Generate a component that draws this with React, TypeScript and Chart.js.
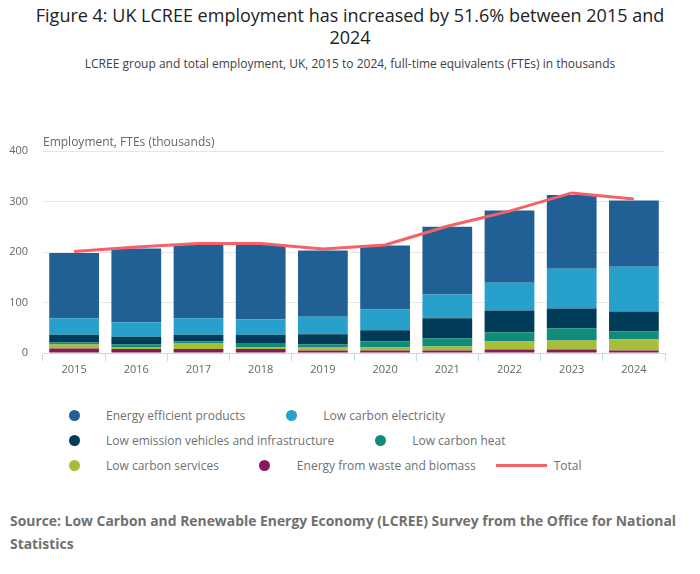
import { useEffect, useRef } from 'react';
import { Chart, registerables } from 'chart.js';

Chart.register(...registerables);

const years = ['2015', '2016', '2017', '2018', '2019', '2020', '2021', '2022', '2023', '2024'];
const wasteBiomass = [9, 8, 8, 8, 5, 5, 5, 7, 7, 5];
const lowCarbonServices = [8, 4, 12, 4, 7, 6, 8, 16, 18, 22];
const lowCarbonHeat = [4, 5, 3, 8, 5, 12, 16, 18, 24, 16];
const lowEmissionVehicles = [15, 15, 13, 16, 20, 22, 40, 43, 39, 39];
const lowCarbonElectricity = [33, 29, 33, 31, 35, 41, 47, 55, 79, 89];
const energyEfficient = [129, 146, 145, 148, 131, 127, 134, 143, 146, 131];
const totalEmployment = [201, 210, 217, 217, 206, 214, 251, 281, 317, 305];
const yTicks = [0, 100, 200, 300, 400];

const FONT = "'Open Sans', 'Noto Sans', sans-serif";

const legendItems = [
    { label: 'Energy efficient products', color: '#206095', kind: 'dot' },
    { label: 'Low carbon electricity', color: '#27a0cc', kind: 'dot' },
    { label: 'Low emission vehicles and infrastructure', color: '#003c57', kind: 'dot' },
    { label: 'Low carbon heat', color: '#118c7b', kind: 'dot' },
    { label: 'Low carbon services', color: '#a8bd3a', kind: 'dot' },
    { label: 'Energy from waste and biomass', color: '#871a5b', kind: 'dot' },
    { label: 'Total', color: '#f66068', kind: 'line' },
];

// draws the horizontal axis title above the plot
const axisTitle = {
    id: 'axisTitle',
    afterDraw(chart: Chart) {
        const { ctx, chartArea } = chart;
        ctx.save();
        ctx.font = `12px ${FONT}`;
        ctx.fillStyle = '#666666';
        ctx.textBaseline = 'middle';
        ctx.textAlign = 'left';
        ctx.fillText('Employment, FTEs (thousands)', chartArea.left, chartArea.top - 8);
        ctx.restore();
    },
};

const EmploymentChart = () => {
    const chartRef = useRef<HTMLCanvasElement | null>(null);
    const chartInstance = useRef<Chart | null>(null);

    useEffect(() => {
        if (!chartRef.current) return;
        if (chartInstance.current) chartInstance.current.destroy();

        const bar = (label: string, data: number[], color: string) => ({
            type: 'bar' as const,
            label,
            data,
            backgroundColor: color,
            borderWidth: 0,
            stack: 'groups',
            order: 1,
            categoryPercentage: 0.8,
            barPercentage: 1,
        });

        chartInstance.current = new Chart(chartRef.current, {
            type: 'bar',
            data: {
                labels: years,
                datasets: [
                    bar('Energy from waste and biomass', wasteBiomass, '#871a5b'),
                    bar('Low carbon services', lowCarbonServices, '#a8bd3a'),
                    bar('Low carbon heat', lowCarbonHeat, '#118c7b'),
                    bar('Low emission vehicles and infrastructure', lowEmissionVehicles, '#003c57'),
                    bar('Low carbon electricity', lowCarbonElectricity, '#27a0cc'),
                    bar('Energy efficient products', energyEfficient, '#206095'),
                    {
                        type: 'line' as const,
                        label: 'Total',
                        data: totalEmployment,
                        borderColor: '#f66068',
                        backgroundColor: '#f66068',
                        borderWidth: 3,
                        pointRadius: 0,
                        tension: 0,
                        stack: 'total',
                        order: 0,
                    },
                ] as any,
            },
            options: {
                animation: false,
                responsive: true,
                maintainAspectRatio: false,
                layout: { padding: { top: 25, right: 35, left: 0, bottom: 0 } },
                plugins: {
                    legend: { display: false },
                    tooltip: { enabled: false },
                },
                scales: {
                    x: {
                        stacked: true,
                        afterFit: (scale: any) => { scale.height = 33; },
                        grid: {
                            offset: true,
                            drawOnChartArea: false,
                            drawTicks: true,
                            tickLength: 8,
                            color: '#ccd6eb',
                        },
                        border: { color: '#ccd6eb' },
                        ticks: { color: '#666666', font: { family: FONT, size: 11 }, padding: 2 },
                    },
                    y: {
                        stacked: true,
                        min: yTicks[0],
                        max: yTicks[yTicks.length - 1],
                        afterFit: (scale: any) => { scale.width = 43; },
                        afterBuildTicks: (scale: any) => {
                            scale.ticks = yTicks.map((v) => ({ value: v }));
                        },
                        grid: { color: '#e6e6e6', drawTicks: false },
                        border: { display: false },
                        ticks: { color: '#666666', font: { family: FONT, size: 11 }, padding: 15 },
                    },
                },
            },
            plugins: [axisTitle],
        });

        return () => {
            if (chartInstance.current) {
                chartInstance.current.destroy();
                chartInstance.current = null;
            }
        };
    }, []);

    return (
        <div style={{ position: 'absolute', left: 0, top: 126, width: 700, height: 260 }}>
            <canvas ref={chartRef}></canvas>
        </div>
    );
};

const App = () => {
    return (
        <div style={{ position: 'absolute', left: 0, top: 0, width: 700, height: 574, fontFamily: FONT, background: '#fff' }}>
            <div style={{ position: 'absolute', top: 4, left: 25, width: 650, textAlign: 'center', fontSize: 18, lineHeight: '22px', color: '#222222' }}>
                Figure 4: UK LCREE employment has increased by 51.6% between 2015 and 2024
            </div>
            <div style={{ position: 'absolute', top: 56, left: 0, width: 700, textAlign: 'center', fontSize: 12, lineHeight: '16px', color: '#414042' }}>
                LCREE group and total employment, UK, 2015 to 2024, full-time equivalents (FTEs) in thousands
            </div>
            <EmploymentChart />
            <div style={{ position: 'absolute', top: 405, left: 48, width: 602, display: 'flex', flexWrap: 'wrap', rowGap: 5 }}>
                {legendItems.map((item) => (
                    <div key={item.label} style={{ display: 'flex', alignItems: 'center', height: 20, marginRight: 20 }}>
                        <div style={{ width: 52, display: 'flex', justifyContent: 'center', alignItems: 'center' }}>
                            {item.kind === 'dot' ? (
                                <div style={{ width: 11, height: 11, borderRadius: '50%', background: item.color }} />
                            ) : (
                                <div style={{ width: 51, height: 3, background: item.color }} />
                            )}
                        </div>
                        <span style={{ marginLeft: 6, fontSize: 12, color: '#707070' }}>{item.label}</span>
                    </div>
                ))}
            </div>
            <div style={{ position: 'absolute', top: 509, left: 10, width: 680, fontSize: 13.9, fontWeight: 700, lineHeight: '23px', color: '#707070' }}>
                Source: Low Carbon and Renewable Energy Economy (LCREE) Survey from the Office for National Statistics
            </div>
        </div>
    );
};

export default App;
